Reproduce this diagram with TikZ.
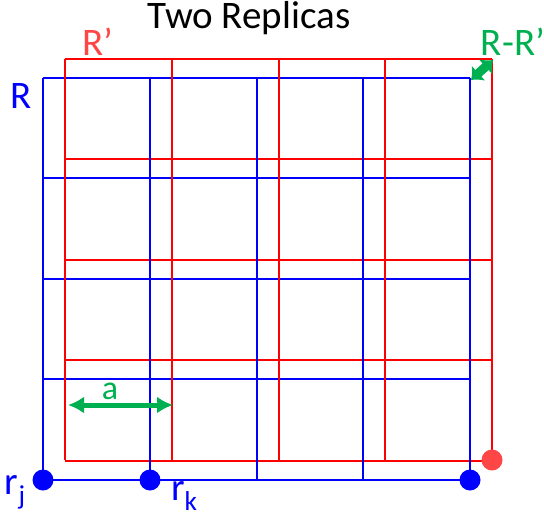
\documentclass[tikz,border=0pt]{standalone}
\usepackage{fontspec}
\setmainfont{Carlito}
\usepackage{tikz}
\usetikzlibrary{arrows.meta}
\definecolor{GridBlue}{RGB}{0,0,255}
\definecolor{GridRed}{RGB}{255,0,0}
\definecolor{DotRed}{RGB}{255,70,70}
\definecolor{ArrowGreen}{RGB}{0,176,80}

\begin{document}
\begin{tikzpicture}[x=1pt, y=-1pt, line width=2pt,
  lbl/.style={inner sep=0pt, font=\fontsize{39}{42}\selectfont},
  dot/.style={circle, fill, inner sep=0pt, minimum size=21pt},
  disp/.style={ArrowGreen, line width=5pt,
    {Latex[length=16pt,width=17pt]}-{Latex[length=16pt,width=17pt]}}]
\def\dx{106.75}
\def\dy{100.4}
\useasboundingbox (0,0) rectangle (544,517);

% ---- horizontal lines, R then R' ----
\foreach \i in {0,...,4}
  \draw[GridBlue] (43, 78+\i*\dy) -- (470, 78+\i*\dy);
\foreach \i in {0,...,4}
  \draw[GridRed] (65, 59+\i*\dy) -- (492, 59+\i*\dy);
% ---- vertical lines ----
\foreach \i in {0,...,4}
  \draw[GridBlue] (43+\i*\dx, 78) -- (43+\i*\dx, 480);
\foreach \i in {0,...,4}
  \draw[GridRed] (65+\i*\dx, 59) -- (65+\i*\dx, 460);

% ---- labels ----
\node[lbl] (title) at (249,18) {Two Replicas};
\node[lbl, DotRed] (lRp) at (98,42) {R’};
\node[lbl, ArrowGreen] (lRR) at (513,42) {R-R’};
\node[lbl, GridBlue] (lR) at (21,96) {R};
\node[lbl, GridBlue, anchor=base west] (lrj) at (4,494) {r\textsubscript{j}};
\node[lbl, GridBlue, anchor=base west] (lrk) at (170,500) {r\textsubscript{k}};

% ---- displacement R-R' ----
\coordinate (cR) at (471,80);
\coordinate (cRp) at (493,60);
\draw[disp, line width=9pt, {Latex[length=10pt,width=21pt]}-{Latex[length=10pt,width=21pt]}] (cR) -- (cRp);

% ---- lattice spacing a ----
\coordinate (aL) at (68,405);
\coordinate (aR) at (173,405);
\draw[disp] (aL) -- (aR);
\node[lbl, ArrowGreen, font=\fontsize{34}{36}\selectfont] (la) at (110,391) {a};

% ---- sites ----
\node[dot, GridBlue] (rj) at (43,480) {};
\node[dot, GridBlue] (rk) at (150,480) {};
\node[dot, GridBlue] (rn) at (470,480) {};
\node[dot, DotRed] (rp) at (492,460) {};

\end{tikzpicture}
\end{document}
